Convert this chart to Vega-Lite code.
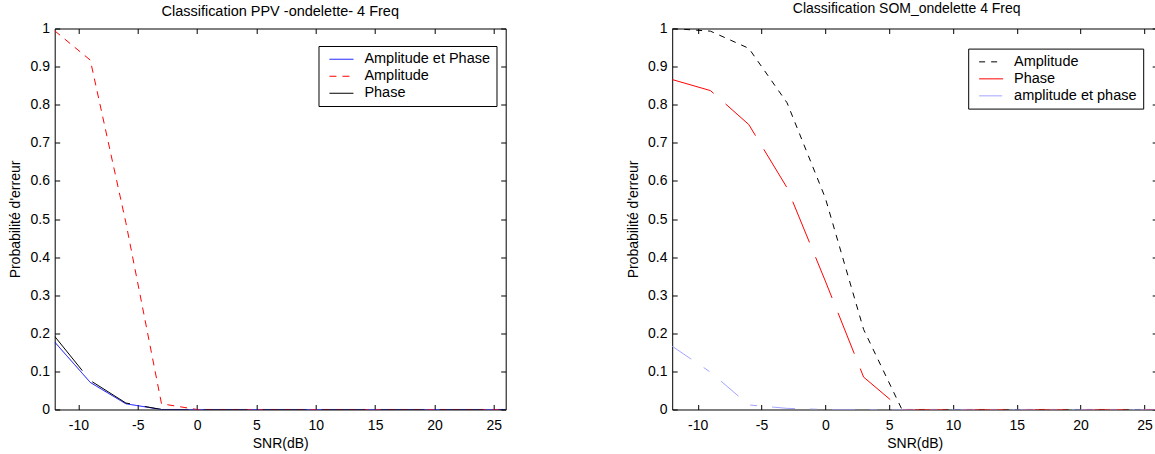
{
  "$schema": "https://vega.github.io/schema/vega-lite/v6.json",
  "background": "white",
  "padding": {"left": 8.7, "top": 1.5, "right": 0, "bottom": 0},
  "bounds": "flush",
  "spacing": 166.5,
  "config": {
    "font": "Liberation Sans",
    "view": {"stroke": null},
    "axis": {
      "labelFont": "Liberation Sans", "labelFontSize": 14, "labelColor": "black",
      "titleFont": "Liberation Sans", "titleFontSize": 14, "titleFontWeight": "normal", "titleColor": "black",
      "domainColor": "black", "domainWidth": 1, "tickColor": "black", "tickWidth": 1,
      "grid": false, "tickSize": -5, "minExtent": 0
    },
    "axisX": {"labelPadding": 14.4, "titleY": 34.5, "titleBaseline": "middle", "labelExpr": "replace(datum.label, '\u2212', '-')"},
    "axisY": {"labelPadding": 10.2, "titleX": -38.8, "titleY": 190.5, "titleBaseline": "middle", "titleAlign": "center"},
    "legend": {
      "orient": "none", "title": null, "symbolType": "M-2,0H2", "symbolSize": 144,
      "symbolStrokeWidth": 1, "labelFont": "Liberation Sans", "labelFontSize": 14.5,
      "labelColor": "black", "strokeColor": "black", "fillColor": "white",
      "padding": 6, "rowPadding": 2, "symbolOffset": 9.7, "labelOffset": 15.7
    }
  },
  "resolve": {
    "scale": {"x": "independent", "y": "independent", "color": "independent", "strokeDash": "independent"},
    "legend": {"color": "independent", "strokeDash": "independent"}
  },
  "hconcat": [
    {
      "width": 451,
      "height": 381,
      "title": {"text": "Classification PPV -ondelette- 4 Freq", "font": "Liberation Sans", "fontSize": 14.5, "fontWeight": "normal", "color": "black", "anchor": "middle", "baseline": "alphabetic", "offset": -9, "frame": "group"},
      "data": {"values": [
        {"snr": -12, "p": 0.177, "serie": "Amplitude et Phase"},
        {"snr": -9, "p": 0.071, "serie": "Amplitude et Phase"},
        {"snr": -6, "p": 0.015, "serie": "Amplitude et Phase"},
        {"snr": -3, "p": 0.0, "serie": "Amplitude et Phase"},
        {"snr": 0, "p": 0.0, "serie": "Amplitude et Phase"},
        {"snr": 3, "p": 0.0, "serie": "Amplitude et Phase"},
        {"snr": 6, "p": 0.0, "serie": "Amplitude et Phase"},
        {"snr": 9, "p": 0.0, "serie": "Amplitude et Phase"},
        {"snr": 12, "p": 0.0, "serie": "Amplitude et Phase"},
        {"snr": 15, "p": 0.0, "serie": "Amplitude et Phase"},
        {"snr": 18, "p": 0.0, "serie": "Amplitude et Phase"},
        {"snr": 21, "p": 0.0, "serie": "Amplitude et Phase"},
        {"snr": 24, "p": 0.0, "serie": "Amplitude et Phase"},
        {"snr": 26, "p": 0.0, "serie": "Amplitude et Phase"},
        {"snr": -12, "p": 0.994, "serie": "Amplitude"},
        {"snr": -9, "p": 0.917, "serie": "Amplitude"},
        {"snr": -6, "p": 0.49, "serie": "Amplitude"},
        {"snr": -3, "p": 0.015, "serie": "Amplitude"},
        {"snr": 0, "p": 0.0, "serie": "Amplitude"},
        {"snr": 3, "p": 0.0, "serie": "Amplitude"},
        {"snr": 6, "p": 0.0, "serie": "Amplitude"},
        {"snr": 9, "p": 0.0, "serie": "Amplitude"},
        {"snr": 12, "p": 0.0, "serie": "Amplitude"},
        {"snr": 15, "p": 0.0, "serie": "Amplitude"},
        {"snr": 18, "p": 0.0, "serie": "Amplitude"},
        {"snr": 21, "p": 0.0, "serie": "Amplitude"},
        {"snr": 24, "p": 0.0, "serie": "Amplitude"},
        {"snr": 26, "p": 0.0, "serie": "Amplitude"},
        {"snr": -12, "p": 0.192, "serie": "Phase"},
        {"snr": -9, "p": 0.076, "serie": "Phase"},
        {"snr": -6, "p": 0.017, "serie": "Phase"},
        {"snr": -3, "p": 0.0, "serie": "Phase"},
        {"snr": 0, "p": 0.0, "serie": "Phase"},
        {"snr": 3, "p": 0.0, "serie": "Phase"},
        {"snr": 6, "p": 0.0, "serie": "Phase"},
        {"snr": 9, "p": 0.0, "serie": "Phase"},
        {"snr": 12, "p": 0.0, "serie": "Phase"},
        {"snr": 15, "p": 0.0, "serie": "Phase"},
        {"snr": 18, "p": 0.0, "serie": "Phase"},
        {"snr": 21, "p": 0.0, "serie": "Phase"},
        {"snr": 24, "p": 0.0, "serie": "Phase"},
        {"snr": 26, "p": 0.0, "serie": "Phase"}
      ]},
      "layer": [
        {
          "mark": {"type": "line", "strokeWidth": 1, "clip": true},
          "encoding": {
            "x": {"field": "snr", "type": "quantitative", "scale": {"domain": [-12, 26], "nice": false, "zero": false},
                  "axis": {"orient": "bottom", "values": [-10, -5, 0, 5, 10, 15, 20, 25], "title": "SNR(dB)"}},
            "y": {"field": "p", "type": "quantitative", "scale": {"domain": [0, 1], "nice": false},
                  "axis": {"orient": "left", "values": [0, 0.1, 0.2, 0.3, 0.4, 0.5, 0.6, 0.7, 0.8, 0.9, 1], "format": ".1~f", "title": "Probabilité d'erreur"}},
            "color": {"field": "serie", "type": "nominal",
                      "scale": {"domain": ["Amplitude et Phase", "Amplitude", "Phase"], "range": ["#0000ff", "#ff0000", "#000000"]},
                      "legend": {"legendX": 263.8, "legendY": 17.5}},
            "strokeDash": {"field": "serie", "type": "nominal",
                      "scale": {"domain": ["Amplitude et Phase", "Amplitude", "Phase"], "range": [[1, 0], [7, 6], [44, 15]]},
                      "legend": {"legendX": 263.8, "legendY": 17.5}}
          }
        },
        {
          "mark": {"type": "point", "opacity": 0},
          "encoding": {
            "x": {"field": "snr", "type": "quantitative", "axis": {"orient": "top", "values": [-10, -5, 0, 5, 10, 15, 20, 25], "labels": false, "title": null}},
            "y": {"field": "p", "type": "quantitative", "axis": {"orient": "right", "values": [0, 0.1, 0.2, 0.3, 0.4, 0.5, 0.6, 0.7, 0.8, 0.9, 1], "labels": false, "title": null}}
          }
        }
      ],
      "resolve": {"axis": {"x": "independent", "y": "independent"}}
    },
    {
      "width": 485,
      "height": 381,
      "title": {"text": "Classification SOM_ondelette 4 Freq", "font": "Liberation Sans", "fontSize": 14, "fontWeight": "normal", "color": "black", "anchor": "middle", "baseline": "alphabetic", "offset": -5.5, "frame": "group", "dx": -8},
      "data": {"values": [
        {"snr": -12, "p": 1.0, "serie": "Amplitude"},
        {"snr": -9, "p": 0.993, "serie": "Amplitude"},
        {"snr": -6, "p": 0.948, "serie": "Amplitude"},
        {"snr": -3, "p": 0.805, "serie": "Amplitude"},
        {"snr": 0, "p": 0.555, "serie": "Amplitude"},
        {"snr": 3, "p": 0.21, "serie": "Amplitude"},
        {"snr": 6, "p": 0.0, "serie": "Amplitude"},
        {"snr": 9, "p": 0.0, "serie": "Amplitude"},
        {"snr": 12, "p": 0.0, "serie": "Amplitude"},
        {"snr": 15, "p": 0.0, "serie": "Amplitude"},
        {"snr": 18, "p": 0.0, "serie": "Amplitude"},
        {"snr": 21, "p": 0.0, "serie": "Amplitude"},
        {"snr": 24, "p": 0.0, "serie": "Amplitude"},
        {"snr": 26, "p": 0.0, "serie": "Amplitude"},
        {"snr": -12, "p": 0.866, "serie": "Phase"},
        {"snr": -9, "p": 0.837, "serie": "Phase"},
        {"snr": -6, "p": 0.748, "serie": "Phase"},
        {"snr": -3, "p": 0.582, "serie": "Phase"},
        {"snr": 0, "p": 0.337, "serie": "Phase"},
        {"snr": 3, "p": 0.085, "serie": "Phase"},
        {"snr": 6, "p": 0.0, "serie": "Phase"},
        {"snr": 9, "p": 0.0, "serie": "Phase"},
        {"snr": 12, "p": 0.0, "serie": "Phase"},
        {"snr": 15, "p": 0.0, "serie": "Phase"},
        {"snr": 18, "p": 0.0, "serie": "Phase"},
        {"snr": 21, "p": 0.0, "serie": "Phase"},
        {"snr": 24, "p": 0.0, "serie": "Phase"},
        {"snr": 26, "p": 0.0, "serie": "Phase"},
        {"snr": -12, "p": 0.166, "serie": "amplitude et phase"},
        {"snr": -9, "p": 0.098, "serie": "amplitude et phase"},
        {"snr": -6, "p": 0.012, "serie": "amplitude et phase"},
        {"snr": -3, "p": 0.003, "serie": "amplitude et phase"},
        {"snr": 0, "p": 0.0, "serie": "amplitude et phase"},
        {"snr": 3, "p": 0.0, "serie": "amplitude et phase"},
        {"snr": 6, "p": 0.0, "serie": "amplitude et phase"},
        {"snr": 9, "p": 0.0, "serie": "amplitude et phase"},
        {"snr": 12, "p": 0.0, "serie": "amplitude et phase"},
        {"snr": 15, "p": 0.0, "serie": "amplitude et phase"},
        {"snr": 18, "p": 0.0, "serie": "amplitude et phase"},
        {"snr": 21, "p": 0.0, "serie": "amplitude et phase"},
        {"snr": 24, "p": 0.0, "serie": "amplitude et phase"},
        {"snr": 26, "p": 0.0, "serie": "amplitude et phase"}
      ]},
      "layer": [
        {
          "mark": {"type": "line", "strokeWidth": 1, "clip": true},
          "encoding": {
            "x": {"field": "snr", "type": "quantitative", "scale": {"domain": [-12, 26], "nice": false, "zero": false},
                  "axis": {"orient": "bottom", "values": [-10, -5, 0, 5, 10, 15, 20, 25], "title": "SNR(dB)"}},
            "y": {"field": "p", "type": "quantitative", "scale": {"domain": [0, 1], "nice": false},
                  "axis": {"orient": "left", "values": [0, 0.1, 0.2, 0.3, 0.4, 0.5, 0.6, 0.7, 0.8, 0.9, 1], "format": ".1~f", "title": "Probabilité d'erreur"}},
            "color": {"field": "serie", "type": "nominal",
                      "scale": {"domain": ["Amplitude", "Phase", "amplitude et phase"], "range": ["#000000", "#ff0000", "#a3a3ff"]},
                      "legend": {"legendX": 296, "legendY": 20.1}},
            "strokeDash": {"field": "serie", "type": "nominal",
                      "scale": {"domain": ["Amplitude", "Phase", "amplitude et phase"], "range": [[6, 6], [44, 16], [23, 15, 7, 15]]},
                      "legend": {"legendX": 296, "legendY": 20.1}}
          }
        },
        {
          "mark": {"type": "point", "opacity": 0},
          "encoding": {
            "x": {"field": "snr", "type": "quantitative", "axis": {"orient": "top", "values": [-10, -5, 0, 5, 10, 15, 20, 25], "labels": false, "title": null}},
            "y": {"field": "p", "type": "quantitative", "axis": {"orient": "right", "values": [0, 0.1, 0.2, 0.3, 0.4, 0.5, 0.6, 0.7, 0.8, 0.9, 1], "labels": false, "title": null}}
          }
        }
      ],
      "resolve": {"axis": {"x": "independent", "y": "independent"}}
    }
  ]
}
